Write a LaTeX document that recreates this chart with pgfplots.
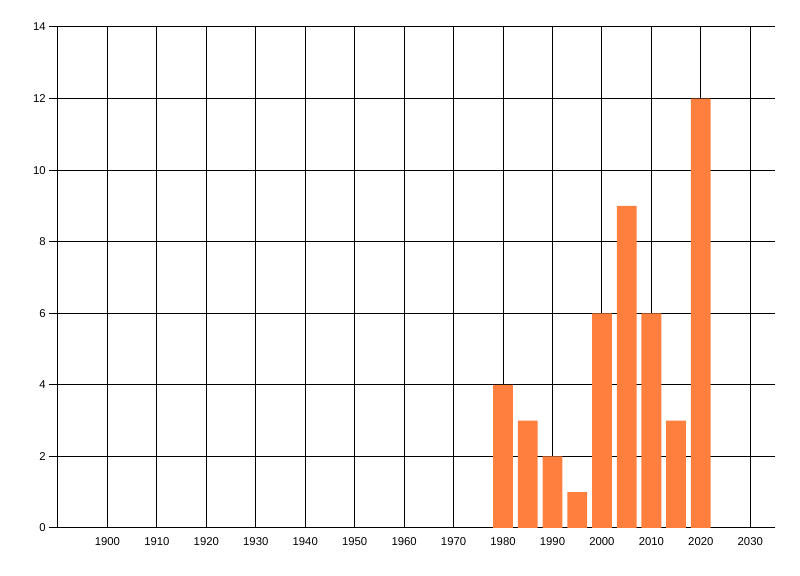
\documentclass[border=0pt]{standalone}
\usepackage{fontspec}
\setmainfont{Liberation Sans}
\usepackage{pgfplots}
\pgfplotsset{compat=1.18}
\definecolor{barfill}{HTML}{FF7F3F}
\begin{document}
\begin{tikzpicture}[x=1pt,y=1pt]
  \begin{axis}[
    name=main,
    scale only axis,
    width=537.75pt, height=375.75pt,
    xmin=1890, xmax=2035,
    ymin=0, ymax=14,
    xtick={1900,1910,...,2030},
    ytick={0,2,...,14},
    axis lines*=left,
    axis line style={black, line width=0.75pt},
    grid=major,
    major grid style={black, line width=0.75pt},
    tick align=outside,
    major tick length=6.75pt,
    xtick style={draw=none},
    ytick style={black, line width=0.75pt},
    tick label style={font=\fontsize{8.5}{10}\selectfont, text=black},
    xticklabel style={yshift=2.75pt},
    yticklabel style={xshift=1pt},
    /pgf/number format/1000 sep={},
    /pgf/number format/assume math mode=true,
    ybar,
    bar width=4,
    clip=false,
  ]
    \addplot[fill=barfill, draw=none] coordinates {
      (1980,4) (1985,3) (1990,2) (1995,1) (2000,6)
      (2005,9) (2010,6) (2015,3) (2020,12)
    };
  \end{axis}
  \path (main.south west) ++(-43.5pt,-36pt) coordinate (bl);
  \path (main.north east) ++(18.75pt,20.25pt) coordinate (tr);
  \useasboundingbox (bl) rectangle (tr);
\end{tikzpicture}
\end{document}
